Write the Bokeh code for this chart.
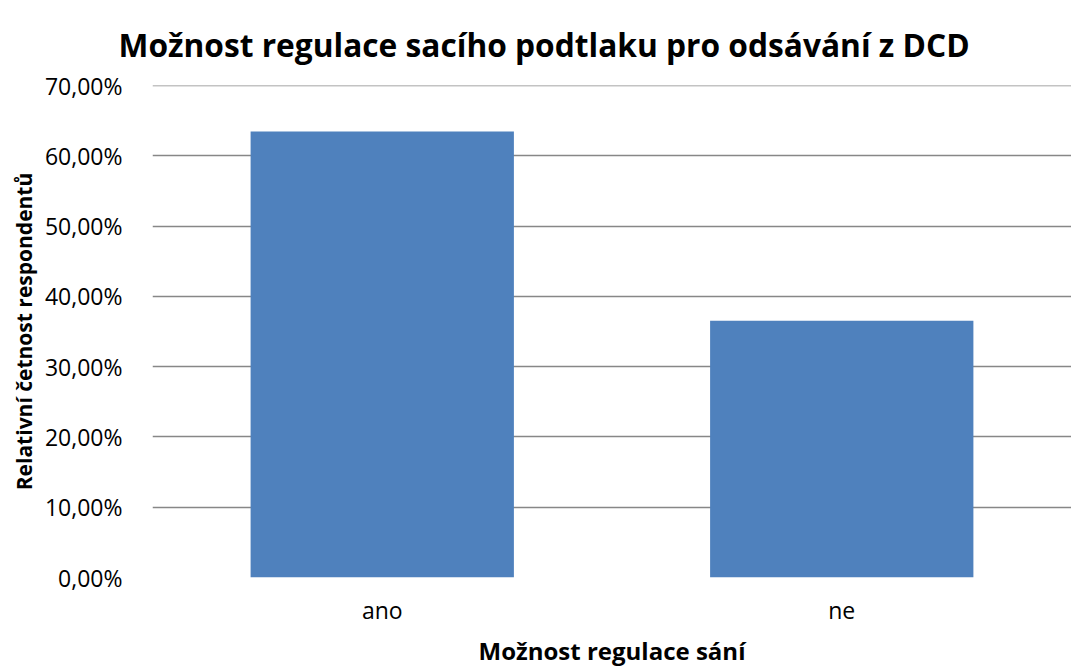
from bokeh.plotting import figure
from bokeh.models import CustomJSTickFormatter, FixedTicker, Range1d, FactorRange, Span
from bokeh.embed import file_html
from bokeh.resources import INLINE

categories = ["ano", "ne"]
values = [63.46, 36.54]
y_ticks = [0, 10, 20, 30, 40, 50, 60, 70]
title_text = "Možnost regulace sacího podtlaku pro odsávání z DCD"

FONT = "Open Sans"
GRID = "#878787"

p = figure(
    x_range=FactorRange(*categories, range_padding=0),
    y_range=Range1d(0, 70),
    width=1071, height=669,
    output_backend="svg", toolbar_location=None,
    min_border_left=152, min_border_right=0, min_border_top=85, min_border_bottom=92,
)
p.vbar(x=categories, top=values, width=0.573, color="#4F81BD", line_color=None)
p.add_layout(Span(location=70, dimension="width", line_color=GRID, line_width=1.5))

p.title.text = title_text
p.title.text_font = FONT
p.title.text_font_size = "31.7px"
p.title.text_font_style = "bold"
p.title.text_color = "#000000"
p.title.align = "left"
p.title.offset = -34
p.title.standoff = 40

p.outline_line_color = None
p.xgrid.grid_line_color = None
p.ygrid.grid_line_color = GRID
p.ygrid.grid_line_width = 1.5

p.yaxis.ticker = FixedTicker(ticks=y_ticks)
p.yaxis.formatter = CustomJSTickFormatter(code="return tick.toFixed(2).replace('.', ',') + '%';")
p.yaxis.axis_line_color = None
p.yaxis.major_tick_line_color = None
p.yaxis.minor_tick_line_color = None
p.yaxis.major_label_text_font = FONT
p.yaxis.major_label_text_font_size = "23px"
p.yaxis.major_label_text_color = "#000000"
p.yaxis.major_label_standoff = 24
p.yaxis.axis_label = "Relativní četnost respondentů"
p.yaxis.axis_label_text_font = FONT
p.yaxis.axis_label_text_font_size = "21px"
p.yaxis.axis_label_text_font_style = "bold"
p.yaxis.axis_label_text_color = "#000000"
p.yaxis.axis_label_standoff = 4

p.xaxis.axis_line_color = None
p.xaxis.major_tick_line_color = None
p.xaxis.major_label_text_font = FONT
p.xaxis.major_label_text_font_size = "23px"
p.xaxis.major_label_text_color = "#000000"
p.xaxis.major_label_standoff = 10
p.xaxis.axis_label = "Možnost regulace sání"
p.xaxis.axis_label_text_font = FONT
p.xaxis.axis_label_text_font_size = "24px"
p.xaxis.axis_label_text_font_style = "bold"
p.xaxis.axis_label_text_color = "#000000"
p.xaxis.axis_label_standoff = 5

open("out.html", "w").write(file_html(p, INLINE))
